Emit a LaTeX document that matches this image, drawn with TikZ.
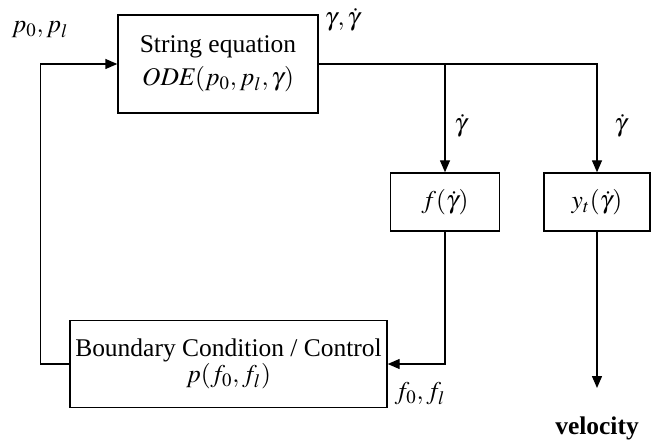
\documentclass[tikz,border=0pt]{standalone}
\usepackage{mathptmx}
\usepackage{fontspec}
\setmainfont{Liberation Serif}
\usetikzlibrary{arrows.meta}

\begin{document}
\begin{tikzpicture}[font=\fontsize{14.5}{17}\selectfont, line width=0.8pt,
    >={Triangle[length=0.24cm,width=0.2cm]},
    blk/.style={draw, align=center, inner sep=0pt},
    lbl/.style={inner sep=1pt}]
    \useasboundingbox (0,0) rectangle (13.08,8.86);

    \node[blk, minimum width=4cm, minimum height=1.96cm] (streq) at (4.36,7.58)
      {String equation\\[2pt] $\mathit{ODE}(p_0, p_l, \gamma)$};
    \node[blk, minimum width=2.18cm, minimum height=1.16cm] (fgam) at (8.9,4.82) {$f(\dot\gamma)$};
    \node[blk, minimum width=2.12cm, minimum height=1.16cm] (ytgam) at (11.94,4.82) {$y_t(\dot\gamma)$};
    \node[blk, minimum width=6.34cm, minimum height=1.74cm] (bc) at (4.57,1.58)
      {Boundary Condition / Control\\[-2pt] $p(f_0, f_l)$};

    \node[lbl] (pin) at (0.8,8.26) {$p_0, p_l$};
    \node[lbl, anchor=west] (gout) at (6.45,8.46) {$\gamma, \dot\gamma$};
    \node[lbl, anchor=west] (gd1) at (9.04,6.34) {$\dot\gamma$};
    \node[lbl, anchor=west] (gd2) at (12.24,6.34) {$\dot\gamma$};
    \node[lbl] (fout) at (8.4,0.98) {$f_0, f_l$};
    \node[lbl] (vel) at (11.94,0.3) {\textbf{velocity}};
    \coordinate (vout) at (11.94,1.1);

    \draw[->] (streq.east) -| (ytgam.north);
    \draw[->] (streq.east -| fgam.north) -- (fgam.north);
    \draw[->] (fgam.south) |- (bc.east);
    \draw[->] (bc.west) -- ++(-0.58,0) |- (streq.west);
    \draw[->] (ytgam.south) -- (vout);
\end{tikzpicture}
\end{document}
